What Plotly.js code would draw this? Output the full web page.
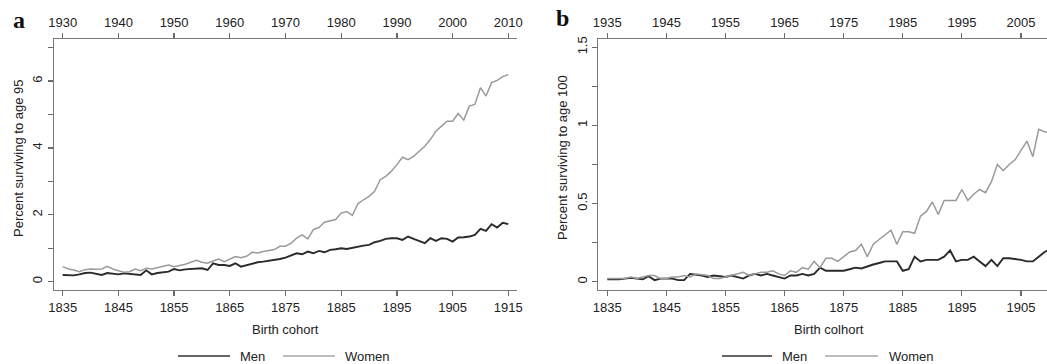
<!DOCTYPE html>
<html>
<head>
<meta charset="utf-8">
<script src="https://cdn.plot.ly/plotly-3.0.1.min.js"></script>
<style>html,body{margin:0;padding:0;background:#fff;}#chart{width:1047px;height:364px;}</style>
</head>
<body>
<div id="chart"></div>
<script>
// ---------- DATA ----------
const yearsA = [1835,1836,1837,1838,1839,1840,1841,1842,1843,1844,1845,1846,1847,1848,1849,1850,1851,1852,1853,1854,1855,1856,1857,1858,1859,1860,1861,1862,1863,1864,1865,1866,1867,1868,1869,1870,1871,1872,1873,1874,1875,1876,1877,1878,1879,1880,1881,1882,1883,1884,1885,1886,1887,1888,1889,1890,1891,1892,1893,1894,1895,1896,1897,1898,1899,1900,1901,1902,1903,1904,1905,1906,1907,1908,1909,1910,1911,1912,1913,1914,1915];
const menA95 = [0.20,0.20,0.19,0.22,0.26,0.27,0.24,0.20,0.26,0.25,0.22,0.25,0.24,0.22,0.20,0.34,0.22,0.26,0.28,0.30,0.38,0.34,0.37,0.38,0.40,0.40,0.35,0.55,0.50,0.50,0.47,0.55,0.45,0.50,0.55,0.58,0.60,0.62,0.65,0.68,0.72,0.78,0.85,0.82,0.90,0.85,0.92,0.88,0.95,0.97,1.00,0.98,1.02,1.05,1.08,1.10,1.18,1.22,1.28,1.30,1.30,1.25,1.35,1.28,1.22,1.15,1.30,1.22,1.30,1.28,1.20,1.32,1.33,1.35,1.40,1.58,1.52,1.72,1.62,1.76,1.72];
const womenA95 = [0.45,0.38,0.35,0.30,0.36,0.38,0.37,0.38,0.46,0.38,0.33,0.28,0.30,0.38,0.33,0.40,0.38,0.42,0.48,0.50,0.45,0.48,0.52,0.58,0.64,0.58,0.55,0.62,0.68,0.60,0.68,0.75,0.72,0.76,0.88,0.86,0.90,0.92,0.96,1.06,1.06,1.15,1.30,1.40,1.28,1.56,1.62,1.78,1.82,1.86,2.05,2.10,1.98,2.33,2.45,2.55,2.70,3.05,3.15,3.30,3.50,3.72,3.65,3.75,3.90,4.05,4.25,4.50,4.65,4.80,4.80,5.03,4.83,5.25,5.30,5.80,5.55,5.95,6.02,6.13,6.19];
const topTicksA = [1930,1940,1950,1960,1970,1980,1990,2000,2010];
const bottomTicksA = [1835,1845,1855,1865,1875,1885,1895,1905,1915];

const yearsB = [1835,1836,1837,1838,1839,1840,1841,1842,1843,1844,1845,1846,1847,1848,1849,1850,1851,1852,1853,1854,1855,1856,1857,1858,1859,1860,1861,1862,1863,1864,1865,1866,1867,1868,1869,1870,1871,1872,1873,1874,1875,1876,1877,1878,1879,1880,1881,1882,1883,1884,1885,1886,1887,1888,1889,1890,1891,1892,1893,1894,1895,1896,1897,1898,1899,1900,1901,1902,1903,1904,1905,1906,1907,1908,1909,1910];
const menB100 = [0.015,0.015,0.015,0.02,0.025,0.02,0.015,0.035,0.01,0.02,0.02,0.02,0.01,0.01,0.05,0.045,0.04,0.03,0.04,0.035,0.03,0.04,0.03,0.02,0.04,0.05,0.04,0.05,0.04,0.03,0.02,0.04,0.04,0.05,0.04,0.05,0.09,0.07,0.07,0.07,0.07,0.08,0.09,0.085,0.10,0.11,0.12,0.13,0.13,0.13,0.07,0.08,0.16,0.13,0.14,0.14,0.14,0.16,0.20,0.13,0.14,0.14,0.16,0.13,0.10,0.14,0.10,0.15,0.15,0.145,0.14,0.13,0.13,0.16,0.19,0.21];
const womenB100 = [0.02,0.02,0.02,0.02,0.03,0.02,0.03,0.04,0.04,0.02,0.02,0.03,0.03,0.04,0.03,0.05,0.045,0.04,0.02,0.02,0.03,0.04,0.05,0.06,0.04,0.05,0.06,0.06,0.07,0.05,0.04,0.07,0.06,0.09,0.08,0.13,0.09,0.15,0.15,0.13,0.16,0.19,0.20,0.24,0.16,0.24,0.27,0.30,0.33,0.24,0.32,0.32,0.31,0.42,0.45,0.51,0.43,0.52,0.52,0.52,0.59,0.52,0.56,0.59,0.57,0.64,0.75,0.71,0.75,0.78,0.84,0.90,0.80,0.975,0.96,0.95];
const topTicksB = [1935,1945,1955,1965,1975,1985,1995,2005];
const bottomTicksB = [1835,1845,1855,1865,1875,1885,1895,1905];

const yTicksA = [0,1,2,3,4,5,6,7];
const yTickTextA = ['0','','2','','4','','6',''];
const yTicksB = [0,0.25,0.5,0.75,1,1.25,1.5];
const yTickTextB = ['0','','0.5','','1','','1.5'];

const seriesNames = ['Men','Women'];
const panelLetters = ['a','b'];
const yTitles = ['Percent surviving to age 95','Percent surviving to age 100'];
const xTitles = ['Birth cohort','Birth colhort'];

// ---------- LAYOUT HELPERS ----------
const W = 1047, H = 364;
const px = v => v / W;
const py = v => 1 - v / H;
const FONT = 'Liberation Sans, Arial, sans-serif';
const MEN_COL = '#2a2a2a', WOMEN_COL = '#9a9a9a';

const rangeA = [1833.44, 1916.56];
const rangeB = [1833.48, 1909.4];
const yDom = [py(290), py(39)];

function baseX(extra) {
  return Object.assign({
    showgrid:false, zeroline:false, showline:true, linecolor:'#7a7a7a', linewidth:1.4,
    ticks:'outside', ticklen:5, tickwidth:1.2, tickcolor:'#6a6a6a',
    tickfont:{family:FONT, size:13, color:'#222'}, tickmode:'array', fixedrange:true
  }, extra);
}

const traces = [
  {x:yearsA, y:menA95, type:'scatter', mode:'lines', xaxis:'x', yaxis:'y', line:{color:MEN_COL, width:1.9}, name:seriesNames[0], showlegend:false, hoverinfo:'skip'},
  {x:yearsA, y:womenA95, type:'scatter', mode:'lines', xaxis:'x', yaxis:'y', line:{color:WOMEN_COL, width:1.5}, name:seriesNames[1], showlegend:false, hoverinfo:'skip'},
  {x:yearsB, y:menB100, type:'scatter', mode:'lines', xaxis:'x3', yaxis:'y2', line:{color:MEN_COL, width:1.9}, name:seriesNames[0], showlegend:false, hoverinfo:'skip'},
  {x:yearsB, y:womenB100, type:'scatter', mode:'lines', xaxis:'x3', yaxis:'y2', line:{color:WOMEN_COL, width:1.5}, name:seriesNames[1], showlegend:false, hoverinfo:'skip'},
  // empty carriers so the top (reach-age calendar year) axes are drawn
  {x:[], y:[], type:'scatter', mode:'lines', xaxis:'x2', yaxis:'y', showlegend:false, hoverinfo:'skip'},
  {x:[], y:[], type:'scatter', mode:'lines', xaxis:'x4', yaxis:'y2', showlegend:false, hoverinfo:'skip'}
];

const layout = {
  width:W, height:H, margin:{l:0,r:0,t:0,b:0},
  paper_bgcolor:'#fff', plot_bgcolor:'#fff', showlegend:false,
  font:{family:FONT, size:13, color:'#222'},
  xaxis: baseX({domain:[px(54), px(517)], range:rangeA, tickvals:bottomTicksA, anchor:'y', side:'bottom'}),
  xaxis2: baseX({domain:[px(54), px(517)], range:[rangeA[0]+95, rangeA[1]+95], tickvals:topTicksA, anchor:'y', side:'top', overlaying:'x'}),
  xaxis3: baseX({domain:[px(598.3), 1], range:rangeB, tickvals:bottomTicksB, anchor:'y2', side:'bottom'}),
  xaxis4: baseX({domain:[px(598.3), 1], range:[rangeB[0]+100, rangeB[1]+100], tickvals:topTicksB, anchor:'y2', side:'top', overlaying:'x3'}),
  yaxis: baseX({domain:yDom, range:[-0.248, 7.256], tickvals:yTicksA, ticktext:yTickTextA, tickangle:-90, anchor:'x'}),
  yaxis2: baseX({domain:yDom, range:[-0.053, 1.553], tickvals:yTicksB, ticktext:yTickTextB, tickangle:-90, anchor:'x3'}),
  annotations: [],
  shapes: []
};

// panel letters
[[18.5, 20, 0], [562, 18, 1]].forEach(([x,y,i]) => layout.annotations.push({
  xref:'paper', yref:'paper', x:px(x), y:py(y), xanchor:'center', yanchor:'middle', showarrow:false,
  text:'<b>'+panelLetters[i]+'</b>', font:{family:'Liberation Serif, Times New Roman, serif', size:24, color:'#111'}
}));
// y titles
[[18, 158, 0], [562, 158, 1]].forEach(([x,y,i]) => layout.annotations.push({
  xref:'paper', yref:'paper', x:px(x), y:py(y), xanchor:'center', yanchor:'middle', showarrow:false,
  textangle:-90, text:yTitles[i], font:{family:FONT, size:13, color:'#222'}
}));
// x titles
[[285.5, 329, 0], [829, 329, 1]].forEach(([x,y,i]) => layout.annotations.push({
  xref:'paper', yref:'paper', x:px(x), y:py(y), xanchor:'center', yanchor:'middle', showarrow:false,
  text:xTitles[i], font:{family:FONT, size:13, color:'#222'}
}));
// legends
const legendSpecs = [
  {x0:178, x1:230, tx:238, col:'#666', w:2, name:seriesNames[0]},
  {x0:283, x1:335, tx:343, col:'#bdbdbd', w:2, name:seriesNames[1]},
  {x0:722, x1:772, tx:780, col:'#666', w:2, name:seriesNames[0]},
  {x0:825, x1:878, tx:887, col:'#bdbdbd', w:2, name:seriesNames[1]}
];
legendSpecs.forEach(s => {
  layout.shapes.push({type:'line', xref:'paper', yref:'paper', x0:px(s.x0), x1:px(s.x1), y0:py(356), y1:py(356), line:{color:s.col, width:s.w}});
  layout.annotations.push({xref:'paper', yref:'paper', x:px(s.tx), y:py(356), xanchor:'left', yanchor:'middle', showarrow:false,
    text:s.name, font:{family:FONT, size:13, color:'#222'}});
});

Plotly.newPlot('chart', traces, layout, {staticPlot:true, displayModeBar:false});
</script>
</body>
</html>
